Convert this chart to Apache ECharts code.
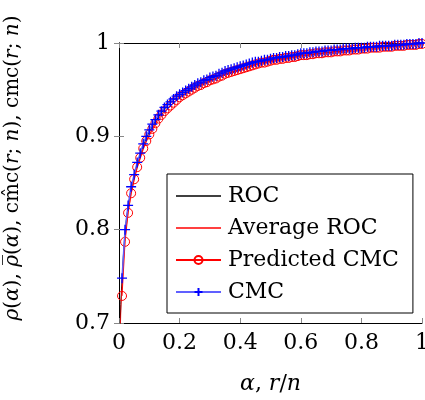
<!DOCTYPE html>
<html>
<head>
<meta charset="utf-8">
<script src="https://cdn.jsdelivr.net/npm/echarts@6/dist/echarts.min.js"></script>
<style>html,body{margin:0;padding:0;background:#fff}#c{width:425px;height:400px}</style>
</head>
<body>
<div id="c"></div>
<script>
// ---- data ----
const xTicks = [0, 0.2, 0.4, 0.6, 0.8, 1];
const yTicks = [0.7, 0.8, 0.9, 1];

const alpha = [0, 0.002, 0.004, 0.006, 0.008, 0.01, 0.015, 0.02, 0.025, 0.03, 0.04, 0.05, 0.06, 0.07, 0.08, 0.09, 0.1, 0.12, 0.14, 0.16, 0.18, 0.2, 0.25, 0.3, 0.35, 0.4, 0.45, 0.5, 0.55, 0.6, 0.65, 0.7, 0.75, 0.8, 0.85, 0.9, 0.95, 1];
const roc = [0.45, 0.66, 0.70, 0.72, 0.735, 0.745, 0.775, 0.797, 0.812, 0.824, 0.843, 0.857, 0.870, 0.880, 0.890, 0.898, 0.905, 0.916, 0.925, 0.933, 0.939, 0.944, 0.954, 0.962, 0.969, 0.974, 0.979, 0.982, 0.985, 0.988, 0.990, 0.992, 0.994, 0.995, 0.996, 0.997, 0.999, 1.0];
const avgRoc = [0.45, 0.65, 0.69, 0.713, 0.728, 0.738, 0.768, 0.79, 0.806, 0.818, 0.838, 0.853, 0.866, 0.876, 0.886, 0.894, 0.901, 0.912, 0.921, 0.929, 0.936, 0.941, 0.951, 0.959, 0.966, 0.972, 0.977, 0.980, 0.983, 0.986, 0.988, 0.990, 0.992, 0.994, 0.995, 0.996, 0.998, 1.0];

const rOverN = [0.01,0.02,0.03,0.04,0.05,0.06,0.07,0.08,0.09,0.10,0.11,0.12,0.13,0.14,0.15,0.16,0.17,0.18,0.19,0.20,0.21,0.22,0.23,0.24,0.25,0.26,0.27,0.28,0.29,0.30,0.31,0.32,0.33,0.34,0.35,0.36,0.37,0.38,0.39,0.40,0.41,0.42,0.43,0.44,0.45,0.46,0.47,0.48,0.49,0.50,0.51,0.52,0.53,0.54,0.55,0.56,0.57,0.58,0.59,0.60,0.61,0.62,0.63,0.64,0.65,0.66,0.67,0.68,0.69,0.70,0.71,0.72,0.73,0.74,0.75,0.76,0.77,0.78,0.79,0.80,0.81,0.82,0.83,0.84,0.85,0.86,0.87,0.88,0.89,0.90,0.91,0.92,0.93,0.94,0.95,0.96,0.97,0.98,0.99,1.00];
const predictedCmc = [0.729,0.787,0.818,0.839,0.854,0.867,0.877,0.887,0.895,0.902,0.908,0.914,0.919,0.923,0.927,0.930,0.933,0.936,0.939,0.942,0.944,0.946,0.948,0.950,0.952,0.954,0.955,0.957,0.958,0.960,0.961,0.962,0.964,0.965,0.967,0.968,0.969,0.970,0.971,0.972,0.973,0.974,0.975,0.976,0.977,0.978,0.979,0.979,0.980,0.981,0.982,0.982,0.983,0.983,0.984,0.984,0.985,0.985,0.986,0.987,0.987,0.987,0.988,0.988,0.989,0.989,0.989,0.990,0.990,0.990,0.991,0.991,0.991,0.992,0.992,0.992,0.993,0.993,0.993,0.994,0.994,0.994,0.995,0.995,0.995,0.995,0.996,0.996,0.996,0.996,0.997,0.997,0.997,0.997,0.998,0.998,0.998,0.998,0.999,0.999];
const cmc = [0.748,0.800,0.826,0.846,0.859,0.872,0.882,0.892,0.900,0.907,0.913,0.918,0.923,0.927,0.931,0.934,0.937,0.940,0.943,0.945,0.947,0.949,0.951,0.953,0.955,0.957,0.958,0.960,0.961,0.963,0.964,0.965,0.967,0.968,0.970,0.971,0.972,0.973,0.974,0.975,0.976,0.977,0.978,0.979,0.980,0.980,0.981,0.982,0.982,0.983,0.984,0.984,0.985,0.985,0.986,0.986,0.987,0.987,0.988,0.989,0.989,0.989,0.990,0.990,0.991,0.991,0.991,0.992,0.992,0.992,0.993,0.993,0.993,0.994,0.994,0.994,0.994,0.995,0.995,0.995,0.995,0.996,0.996,0.996,0.996,0.997,0.997,0.997,0.997,0.997,0.998,0.998,0.998,0.998,0.999,0.999,0.999,0.999,1.000,1.000];

// ---- chart ----
const FONT = 'DejaVu Serif';
const FS = 22;
const YFS = 20;
const pairs = (xs, ys) => xs.map((x, i) => [x, ys[i]]);
const tickStyle = { show: true, inside: true, length: 5, lineStyle: { color: '#888', width: 1 } };
const axisLineStyle = { show: true, lineStyle: { color: '#000', width: 1 } };
const plusPath = 'path://M0,5L10,5M5,0L5,10';
const lineIcon = 'path://M0,0L45,0L45,1.3L0,1.3Z';

const chart = echarts.init(document.getElementById('c'), null, { renderer: 'canvas' });
chart.setOption({
  animation: false,
  backgroundColor: '#fff',
  grid: { left: 119, right: 3, top: 43, bottom: 77, containLabel: false, outerBoundsMode: 'none' },
  xAxis: [
    {
      type: 'value', min: 0, max: 1, interval: 0.2, position: 'bottom',
      axisLine: axisLineStyle, axisTick: tickStyle, splitLine: { show: false },
      axisLabel: { margin: 9, color: '#000', fontFamily: FONT, fontSize: FS,
        formatter: v => String(parseFloat(v.toFixed(1))) },
      name: '{i|α}, {i|r}/{i|n}', nameLocation: 'middle', nameGap: 50,
      nameTextStyle: { color: '#000', fontFamily: FONT, fontSize: FS,
        rich: { i: { fontStyle: 'italic', fontFamily: FONT, fontSize: FS, color: '#000' } } }
    },
    {
      type: 'value', min: 0, max: 1, interval: 0.2, position: 'top',
      axisLine: axisLineStyle, axisTick: tickStyle, axisLabel: { show: false }, splitLine: { show: false }
    }
  ],
  yAxis: [
    {
      type: 'value', min: 0.7, max: 1, interval: 0.1, position: 'left',
      axisLine: axisLineStyle, axisTick: tickStyle, splitLine: { show: false },
      axisLabel: { margin: 9, color: '#000', fontFamily: FONT, fontSize: FS,
        formatter: v => String(parseFloat(v.toFixed(1))) },
      name: '{i|ρ}({i|α}), {i|ρ\u0305}({i|α}), cm\u0302c({i|r}; {i|n}), cmc({i|r}; {i|n})',
      nameLocation: 'middle', nameRotate: 90, nameGap: 96,
      nameTextStyle: { color: '#000', fontFamily: FONT, fontSize: YFS, padding: [0, 0, 0, 30],
        rich: { i: { fontStyle: 'italic', fontFamily: FONT, fontSize: YFS, color: '#000' } } }
    },
    {
      type: 'value', min: 0.7, max: 1, interval: 0.1, position: 'right',
      axisLine: axisLineStyle, axisTick: tickStyle, axisLabel: { show: false }, splitLine: { show: false }
    }
  ],
  legend: {
    orient: 'vertical', left: 167, top: 174,
    backgroundColor: '#fff', borderColor: '#000', borderWidth: 1,
    padding: [10, 14, 9, 8], itemGap: 8, itemWidth: 45, itemHeight: 10,
    textStyle: { fontFamily: FONT, fontSize: FS, color: '#000', lineHeight: 24, padding: [0, 0, 0, 2] },
    data: [
      { name: 'ROC', icon: lineIcon },
      { name: 'Average ROC', icon: lineIcon },
      'Predicted CMC',
      'CMC'
    ]
  },
  series: [
    {
      name: 'ROC', type: 'line', data: pairs(alpha, roc), symbol: 'none',
      lineStyle: { color: '#000', width: 1 }, itemStyle: { color: '#000' }, clip: true, z: 2
    },
    {
      name: 'Average ROC', type: 'line', data: pairs(alpha, avgRoc), symbol: 'none',
      lineStyle: { color: '#ff0000', width: 0.8 }, itemStyle: { color: '#ff0000' }, clip: true, z: 3
    },
    {
      name: 'Predicted CMC', type: 'line', data: pairs(rOverN, predictedCmc),
      symbol: 'circle', symbolSize: 9, showAllSymbol: true,
      lineStyle: { color: '#ff0000', width: 1 },
      itemStyle: { color: 'rgba(0,0,0,0)', borderColor: '#ff0000', borderWidth: 1 },
      clip: true, z: 4
    },
    {
      name: 'CMC', type: 'line', data: pairs(rOverN, cmc),
      symbol: plusPath, symbolSize: 10, showAllSymbol: true,
      lineStyle: { color: '#6060ff', width: 1.5 },
      itemStyle: { color: 'rgba(0,0,0,0)', borderColor: '#0000ff', borderWidth: 1.3 },
      clip: true, z: 5
    }
  ]
});
</script>
</body>
</html>
